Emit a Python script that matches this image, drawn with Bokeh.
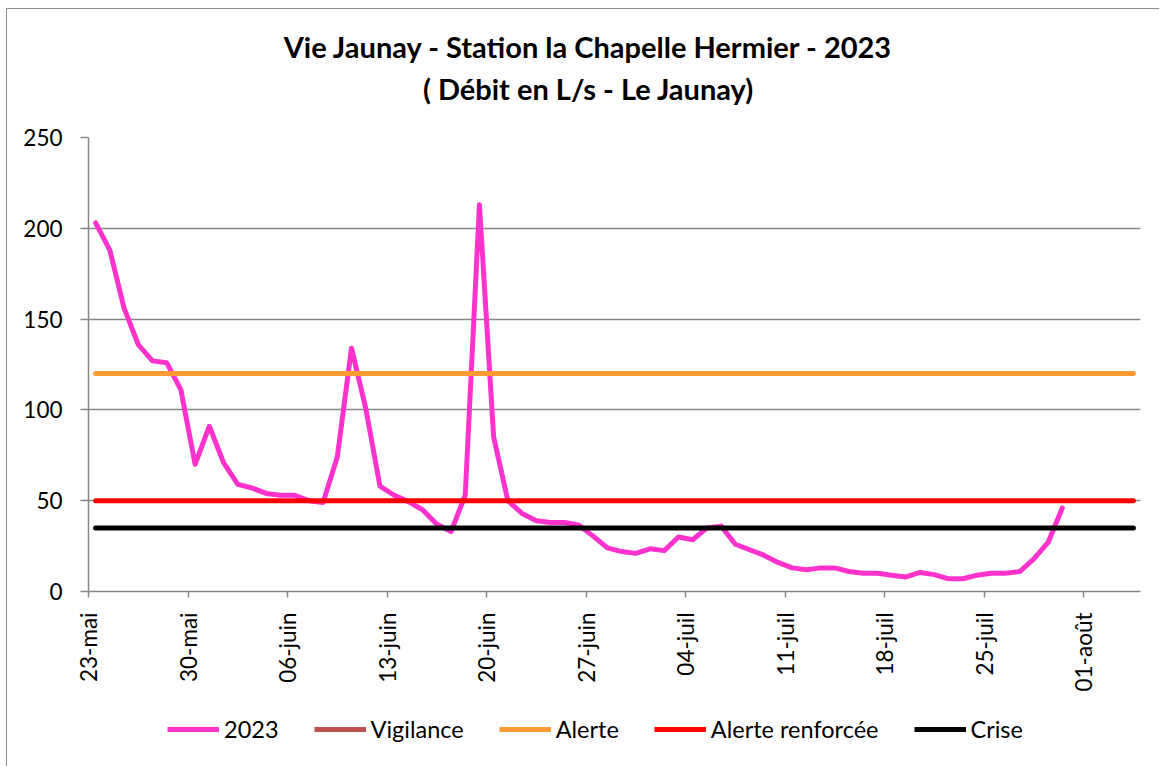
import math
import numpy as np
import pandas as pd
from bokeh.plotting import figure
from bokeh.layouts import column
from bokeh.models import (ColumnDataSource, FixedTicker, Range1d, Legend,
                          LegendItem)
from bokeh.core.properties import value
from bokeh.embed import file_html
from bokeh.resources import INLINE

# ---------------- data ----------------
titres = ["Vie Jaunay - Station la Chapelle Hermier - 2023",
          "( Débit en L/s - Le Jaunay)"]

debut = "2023-05-23"
fin_axe = "2023-08-05"
tick_dates = ["2023-05-23", "2023-05-30", "2023-06-06", "2023-06-13", "2023-06-20",
              "2023-06-27", "2023-07-04", "2023-07-11", "2023-07-18", "2023-07-25",
              "2023-08-01"]
tick_labels = ["23-mai", "30-mai", "06-juin", "13-juin", "20-juin", "27-juin",
               "04-juil", "11-juil", "18-juil", "25-juil", "01-août"]

debit_2023 = [203, 188, 156, 136, 127, 126, 111, 70, 91, 71,
              59, 57, 54, 53, 53, 50, 49, 74, 134, 101,
              58, 53, 49.5, 45, 37, 33, 53, 213, 85, 50,
              43, 39, 38, 38, 36.5, 30.5, 24, 22, 21, 23.5,
              22.5, 30, 28.5, 35, 36, 26, 23, 20, 16, 13,
              12, 13, 13, 11, 10, 10, 9, 8, 10.5, 9.3,
              7, 7, 9, 10, 10, 11, 18, 27, 46]

seuils_periode = ("2023-05-23", "2023-08-04")
vigilance = np.array([np.nan])   # no visible Vigilance line in the reference
alerte = 120
alerte_renforcee = 50
crise = 35

y_ticks = [0, 50, 100, 150, 200, 250]

series_noms = ["2023", "Vigilance", "Alerte", "Alerte renforcée", "Crise"]
series_couleurs = ["#FF33CC", "#C0504D", "#FF9933", "#FF0000", "#000000"]

# ---------------- helpers ----------------
t0 = pd.Timestamp(debut)
def jour(d):
    return (pd.Timestamp(d) - t0).days

x_debit = [i + 0.5 for i in range(len(debit_2023))]
x_seuil = [jour(seuils_periode[0]) + 0.5, jour(seuils_periode[1]) + 0.5]
x_vig = [x_seuil[0]]
ticks = [jour(d) for d in tick_dates]

series_x = [x_debit, x_vig, x_seuil, x_seuil, x_seuil]
series_y = [debit_2023, vigilance, [alerte] * 2, [alerte_renforcee] * 2, [crise] * 2]

FONT = "Lato"
GRID = "#868686"
TICK_FS = "22.5px"
W = 1152
BL, BR = 81, 19                 # borders of the plot frame (shared by the column)
FW = W - BL - BR                # frame width
H_TITLE, H_MAIN, H_LEG = 108, 578, 71
LW = 5

# ---------------- title block ----------------
tf = figure(width=W, height=H_TITLE, x_range=Range1d(0, FW),
            y_range=Range1d(H_TITLE, 0),
            output_backend="svg", toolbar_location=None,
            x_axis_type=None, y_axis_type=None,
            min_border_left=BL, min_border_right=BR, min_border_top=0, min_border_bottom=0)
tf.grid.visible = False
tf.outline_line_color = None
tf.text(x=[581 - BL, 581 - BL], y=[37, 79], text=titres, text_align="center",
        text_baseline="middle", text_font=value(FONT), text_font_size="29px",
        text_font_style="bold", text_color="black")

# ---------------- main plot ----------------
p = figure(width=W, height=H_MAIN,
           x_range=Range1d(0, jour(fin_axe)), y_range=Range1d(0, 250),
           output_backend="svg", toolbar_location=None,
           min_border_left=BL, min_border_right=BR,
           min_border_top=20, min_border_bottom=104)
p.outline_line_color = None
p.background_fill_color = "white"
p.border_fill_color = "white"

p.xaxis.ticker = FixedTicker(ticks=ticks)
p.xaxis.major_label_overrides = {t: l for t, l in zip(ticks, tick_labels)}
p.xaxis.major_label_orientation = math.pi / 2
p.xaxis.major_tick_out = 6
p.xaxis.major_tick_in = 0
p.xaxis.minor_tick_line_color = None
p.xaxis.major_label_standoff = 15
p.xaxis.axis_line_color = GRID
p.xaxis.major_tick_line_color = GRID
p.xaxis.axis_line_width = 1.5
p.xaxis.major_tick_line_width = 1.5
p.xaxis.major_label_text_font = FONT
p.xaxis.major_label_text_font_size = TICK_FS
p.xaxis.major_label_text_color = "black"

p.yaxis.ticker = FixedTicker(ticks=y_ticks)
p.yaxis.major_tick_out = 8
p.yaxis.major_tick_in = 0
p.yaxis.minor_tick_line_color = None
p.yaxis.major_label_standoff = 18
p.yaxis.axis_line_color = GRID
p.yaxis.major_tick_line_color = GRID
p.yaxis.axis_line_width = 1.5
p.yaxis.major_tick_line_width = 1.5
p.yaxis.major_label_text_font = FONT
p.yaxis.major_label_text_font_size = TICK_FS
p.yaxis.major_label_text_color = "black"

p.xgrid.grid_line_color = None
p.ygrid.grid_line_color = GRID
p.ygrid.grid_line_width = 1.5

for xs, ys, col in zip(series_x, series_y, series_couleurs):
    src = ColumnDataSource(dict(x=xs, y=ys))
    p.line("x", "y", source=src, line_color=col, line_width=LW,
           line_join="round", line_cap="round")

# ---------------- legend block ----------------
lf = figure(width=W, height=H_LEG, x_range=Range1d(-1000, -999), y_range=Range1d(-1000, -999),
            output_backend="svg", toolbar_location=None,
            x_axis_type=None, y_axis_type=None,
            min_border_left=BL, min_border_right=BR, min_border_top=0, min_border_bottom=0)
lf.grid.visible = False
lf.outline_line_color = None
items = []
for nom, xs, ys, col in zip(series_noms, series_x, series_y, series_couleurs):
    r = lf.line(x=xs, y=ys, line_color=col, line_width=LW)
    items.append(LegendItem(label=nom, renderers=[r]))
legend = Legend(items=items, orientation="horizontal", location=(79, 23))
legend.label_text_font = FONT
legend.label_text_font_size = "23.5px"
legend.label_text_color = "black"
legend.glyph_width = 52
legend.glyph_height = 20
legend.label_standoff = 5
legend.spacing = 35
legend.padding = 0
legend.margin = 0
legend.border_line_color = None
legend.background_fill_alpha = 0
lf.add_layout(legend, "center")

inner = column(tf, p, lf, spacing=0,
               styles={"border-left": "1px solid #8c8c8c",
                       "border-top": "1px solid #8c8c8c"})
page = column(inner, styles={"padding-left": "6px", "padding-top": "8px",
                             "background-color": "white"})

open("out.html", "w").write(file_html(page, INLINE))
